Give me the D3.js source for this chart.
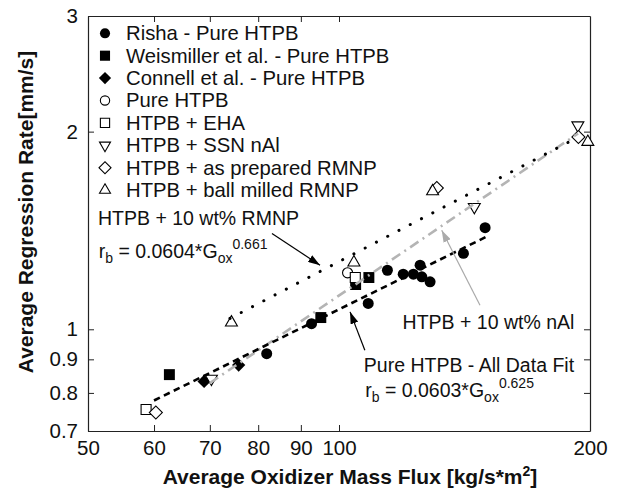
<!DOCTYPE html>
<html>
<head>
<meta charset="utf-8">
<script src="https://cdn.jsdelivr.net/npm/d3@7"></script>
<style>
  body { margin: 0; background: #fff; }
  svg text { font-family: "Liberation Sans", Arial, Helvetica, sans-serif; fill: #111; }
</style>
</head>
<body>
<svg id="chart" width="622" height="492"></svg>
<script>
/* Axis ticks */
var xTicks = [50, 60, 70, 80, 90, 100, 200];
var yTicks = [0.7, 0.8, 0.9, 1, 2, 3];

/* Legend entries, in drawing order */
var seriesNames = ["Risha - Pure HTPB", "Weismiller et al. - Pure HTPB", "Connell et al. - Pure HTPB",
  "Pure HTPB", "HTPB + EHA", "HTPB + SSN nAl", "HTPB + as prepared RMNP", "HTPB + ball milled RMNP"];

/* Data: oxidizer mass flux (kg/s*m2) and regression rate (mm/s) */
var rishaG = [81.9, 92.7, 108.4, 114.3, 119.4, 122.8, 125.1, 125.7, 128.6, 141.0, 149.7];
var rishaR = [0.918, 1.020, 1.095, 1.230, 1.213, 1.213, 1.252, 1.202, 1.181, 1.305, 1.428];
var weisG = [62.6, 95.1, 104.7, 108.6];
var weisR = [0.853, 1.042, 1.170, 1.199];
var connellG = [68.9, 75.8];
var connellR = [0.833, 0.882];
var pureG = [102.4];
var pureR = [1.219];
var ehaG = [58.7, 104.6];
var ehaR = [0.755, 1.199];
var ssnG = [70.3, 145.3, 193.4];
var ssnR = [0.841, 1.536, 2.045];
var asPrepG = [60.3, 131.0, 193.7];
var asPrepR = [0.747, 1.641, 1.963];
var ballG = [74.3, 104.2, 129.5, 198.8];
var ballR = [1.024, 1.264, 1.622, 1.929];

/* Fit lines (end points, straight in log-log) */
var fitPureG = [60, 150], fitPureR = [0.779, 1.382];
var fitRmnpG = [74, 193], fitRmnpR = [1.039, 1.958];
var fitNalG = [70, 193.5], fitNalR = [0.828, 1.987];

/* Settings */
var plot = { left: 88, right: 590, top: 16, bottom: 431 };
var svg = d3.select("svg#chart");

var x = d3.scaleLog().domain([50, 200]).range([plot.left, plot.right]);
var y = d3.scaleLog().domain([0.7, 3]).range([plot.bottom, plot.top]);

var symSquare = d3.symbolSquare;
var markers = [
  { g: rishaG, r: rishaR, type: d3.symbolCircle, size: 95, rot: 0, fill: "#000" },
  { g: weisG, r: weisR, type: symSquare, size: 120, rot: 0, fill: "#000" },
  { g: connellG, r: connellR, type: symSquare, size: 88, rot: 45, fill: "#000" },
  { g: pureG, r: pureR, type: d3.symbolCircle, size: 80, rot: 0, fill: "#fff" },
  { g: ehaG, r: ehaR, type: symSquare, size: 100, rot: 0, fill: "#fff" },
  { g: ssnG, r: ssnR, type: d3.symbolTriangle, size: 62, rot: 180, fill: "#fff" },
  { g: asPrepG, r: asPrepR, type: symSquare, size: 85, rot: 45, fill: "#fff" },
  { g: ballG, r: ballR, type: d3.symbolTriangle, size: 62, rot: 0, fill: "#fff" }
];

/* Arrow heads */
var defs = svg.append("defs");
[["headBlack", "#000"], ["headGray", "#aaa"]].forEach(function (h) {
  defs.append("marker")
    .attr("id", h[0])
    .attr("markerUnits", "userSpaceOnUse")
    .attr("markerWidth", 13).attr("markerHeight", 8)
    .attr("refX", 12).attr("refY", 4)
    .attr("orient", "auto")
    .append("path").attr("d", "M0,0 L12,4 L0,8 Z").attr("fill", h[1]);
});

/* Axes */
function styleAxis(g) {
  g.selectAll("path.domain").attr("stroke", "#222").attr("stroke-width", 1.2);
  g.selectAll(".tick line").attr("stroke", "#222").attr("stroke-width", 1);
  g.selectAll("text").style("font-size", "20.5px").attr("fill", "#111");
}

svg.append("g")
  .attr("transform", `translate(0,${plot.bottom})`)
  .call(d3.axisBottom(x).tickValues(xTicks).tickFormat(d3.format("d")).tickSizeInner(-6).tickSizeOuter(0).tickPadding(9))
  .call(styleAxis);

svg.append("g")
  .attr("transform", `translate(${plot.left},0)`)
  .call(d3.axisLeft(y).tickValues(yTicks).tickFormat(d => d).tickSizeInner(-6).tickSizeOuter(0).tickPadding(10))
  .call(styleAxis);

svg.append("g")
  .attr("transform", `translate(0,${plot.top})`)
  .call(d3.axisTop(x).tickValues(xTicks.slice(1, -1)).tickFormat("").tickSizeInner(-6).tickSizeOuter(0))
  .call(styleAxis);

svg.append("g")
  .attr("transform", `translate(${plot.right},0)`)
  .call(d3.axisRight(y).tickValues(yTicks.slice(1, -1)).tickFormat("").tickSizeInner(-6).tickSizeOuter(0))
  .call(styleAxis);

/* Axis titles */
var xTitle = svg.append("text")
  .attr("x", 350).attr("y", 484)
  .attr("text-anchor", "middle")
  .style("font-size", "21px").style("font-weight", "bold");
xTitle.append("tspan").text("Average Oxidizer Mass Flux [kg/s*m");
xTitle.append("tspan").text("2").attr("dy", -8).style("font-size", "14px");
xTitle.append("tspan").text("]").attr("dy", 8);

svg.append("text")
  .attr("transform", "translate(33,212) rotate(-90)")
  .attr("text-anchor", "middle")
  .style("font-size", "21px").style("font-weight", "bold")
  .text("Average Regression Rate[mm/s]");

/* Data markers */
markers.forEach(function (m) {
  var pts = m.g.map((g, i) => [g, m.r[i]]);
  svg.append("g").selectAll("path")
    .data(pts)
    .enter()
    .append("path")
    .attr("d", d3.symbol().type(m.type).size(m.size))
    .attr("transform", d => `translate(${x(d[0])},${y(d[1])}) rotate(${m.rot})`)
    .attr("fill", m.fill)
    .attr("stroke", m.fill === "#fff" ? "#000" : "none")
    .attr("stroke-width", 1.1);
});

/* Fit lines */
var line = d3.line().x(d => x(d[0])).y(d => y(d[1]));
function drawFit(gs, rs, color, dash, width, cap) {
  svg.append("path")
    .datum(gs.map((g, i) => [g, rs[i]]))
    .attr("d", line)
    .attr("fill", "none")
    .attr("stroke", color)
    .attr("stroke-width", width)
    .attr("stroke-dasharray", dash)
    .attr("stroke-linecap", cap);
}
drawFit(fitNalG, fitNalR, "#b4b4b4", "10,5,2,5", 2.6, "butt");
drawFit(fitPureG, fitPureR, "#000", "6.5,4.5", 2.6, "butt");
drawFit(fitRmnpG, fitRmnpR, "#000", "0.1,12.6", 3, "round");

/* Legend */
var legend = svg.append("g").attr("class", "legend");
seriesNames.forEach(function (name, i) {
  var m = markers[i];
  var cy = 33.3 + i * 22.4;
  legend.append("path")
    .attr("d", d3.symbol().type(m.type).size(m.size * 0.85))
    .attr("transform", `translate(105,${cy}) rotate(${m.rot})`)
    .attr("fill", m.fill)
    .attr("stroke", m.fill === "#fff" ? "#000" : "none")
    .attr("stroke-width", 1.1);
  legend.append("text")
    .attr("x", 126).attr("y", cy + 6.8)
    .style("font-size", "20.3px")
    .text(name);
});

/* Annotations (positions in data units) */
function label(g, r, parts) {
  var t = svg.append("text").attr("x", x(g)).attr("y", y(r)).style("font-size", "19.5px");
  parts.forEach(function (p) {
    t.append("tspan").text(p[0]).attr("dy", p[1]).style("font-size", p[2] || "19.5px");
  });
}
label(51.4, 1.44, [["HTPB + 10 wt% RMNP", 0]]);
label(51.5, 1.283, [["r", 0], ["b", 5, "14px"], [" = 0.0604*G", -5], ["ox", 5, "14px"], ["0.661", -14, "14px"]]);
label(119.2, 1.0, [["HTPB + 10 wt% nAl", 0]]);
label(107.1, 0.861, [["Pure HTPB - All Data Fit", 0]]);
label(107.5, 0.789, [["r", 0], ["b", 5, "14px"], [" = 0.0603*G", -5], ["ox", 5, "14px"], ["0.625", -14, "14px"]]);

function arrow(g0, r0, g1, r1, color, head) {
  svg.append("line")
    .attr("x1", x(g0)).attr("y1", y(r0))
    .attr("x2", x(g1)).attr("y2", y(r1))
    .attr("stroke", color).attr("stroke-width", 1.2)
    .attr("marker-end", `url(#${head})`);
}
arrow(83.1, 1.399, 94.9, 1.252, "#000", "headBlack");
arrow(147.6, 1.088, 132.8, 1.415, "#aaa", "headGray");
arrow(107.4, 0.929, 103.1, 1.063, "#000", "headBlack");
</script>
</body>
</html>
